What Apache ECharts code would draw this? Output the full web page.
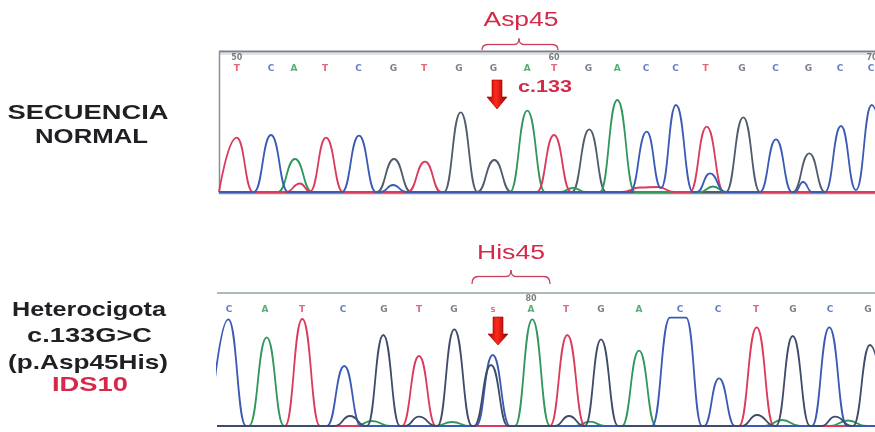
<!DOCTYPE html>
<html>
<head>
<meta charset="utf-8">
<script src="https://cdn.jsdelivr.net/npm/echarts@6/dist/echarts.min.js"></script>
<style>
html,body{margin:0;padding:0;background:#fff;}
#chart{width:875px;height:432px;}
</style>
</head>
<body>
<div id="chart"></div>
<script>
// ---------- DATA (scan position, signal intensity) ----------
// Normal sequence trace (top)
var topT = [[219,0],[236.7,543],[253,0],[286,0],[300,85],[310,5],[326,543],[343,0],[408,0],[425,303],[441,0],[537,0],[554,570],[571,0],[622,0],[640,45],[658,50],[674,0],[690,0],[706.7,653],[724,0],[875,0]];
var topC = [[219,0],[254,0],[271,570],[288,0],[342,0],[359,563],[376,0],[381,0],[393,70],[406,0],[630,0],[646.7,603],[661,40],[676,870],[693,0],[697,0],[710,187],[725,0],[760,0],[776,527],[792,0],[795,0],[803,100],[812,0],[825,0],[841,660],[856,20],[871.7,870],[889,0]];
var topA = [[219,0],[278,0],[295,330],[312,0],[510,0],[527.3,813],[545,0],[560,0],[573,40],[586,0],[600,0],[617.3,920],[635,0],[700,0],[713,55],[726,0],[875,0]];
var topG = [[219,0],[377,0],[394,330],[411,0],[444,0],[460.7,797],[477.5,0],[494.3,320],[511,0],[572,0],[589.3,627],[606,0],[726,0],[743.3,747],[760,0],[793,0],[809.3,387],[825,0],[875,0]];
var topCalls = ['T','C','A','T','C','G','T','G','G','A','T','G','A','C','C','T','G','C','G','C','C'];
var topCallPos = [236.7,271,294,325,358.5,393.5,424,459,493.5,527.3,554,588.5,617.3,646,675.5,705.5,742,775.5,808.5,840,871];
var topNums = ['50','60','70'];
var topNumPos = [236.7,554,872];

// Heterozygous trace (bottom)
var botC = [[210,0],[228.3,1067],[246,0],[327,0],[344.3,600],[361,0],[476,0],[492.7,710],[510,0],[652,0],[670,1083],[686,1083],[702,0],[704,0],[719,477],[735,0],[812,0],[829.3,987],[847,0],[875,0]];
var botA = [[217,0],[249,0],[266.7,887],[284,0],[355,0],[372,50],[390,0],[435,0],[452,40],[470,0],[515,0],[532.3,1067],[550,0],[575,0],[590,43],[605,0],[622,0],[639,753],[656,0],[765,0],[782,60],[800,0],[830,0],[848,55],[866,0],[875,0]];
var botT = [[217,0],[285,0],[302.3,1070],[320,0],[402,0],[419,700],[436,0],[550,0],[567.3,910],[585,0],[739,0],[756.7,987],[774,0],[875,0]];
var botG = [[217,0],[335,0],[350,100],[366,0],[367,0],[383.3,910],[400,0],[405,0],[419,93],[436,0],[437.5,0],[454.3,967],[472,0],[474,0],[491,610],[508,0],[555,0],[569,100],[584,0],[585,0],[601,867],[618,0],[742,0],[757,110],[775,0],[776,0],[792.7,900],[810,0],[822,0],[835,93],[852,0],[853,0],[870,810],[887,0]];
var botCalls = ['C','A','T','C','G','T','G','S','A','T','G','A','C','C','T','G','C','G'];
var botCallPos = [229,265,302,343,384,419,454,493,531,566,601,639,680,718,756,793,830,868];
var botNums = ['80'];
var botNumPos = [531];

// ---------- STYLE ----------
var traceColor = {A:'#31975c', C:'#3a5ab4', G:'#505c6c', T:'#dc3a5c'};
var callColor = {A:'#2f9a55', C:'#3b5cb8', G:'#55606e', T:'#d9405e', S:'#d9405e'};
var RED = '#d6294a';

var chart = echarts.init(document.getElementById('chart'), null, {renderer:'canvas'});

function traceSeries(data, color, gi) {
  return {
    type:'line', xAxisIndex:gi, yAxisIndex:gi, data:data,
    smooth:0.5, smoothMonotone:'x', showSymbol:false, symbol:'none',
    lineStyle:{color:color, width:1.8}, silent:true, clip:true, z:2
  };
}
function callSeries(calls, pos, yVal, gi) {
  return {
    type:'scatter', xAxisIndex:gi, yAxisIndex:gi, symbolSize:0, silent:true, z:3,
    data: calls.map(function(c,i){
      return {value:[pos[i], yVal], name:c,
        label:{color: callColor[c] || '#666', fontSize: c==='S'?7:9}};
    }),
    label:{show:true, position:'inside', formatter:function(p){return p.name;},
      fontFamily:'DejaVu Sans', fontWeight:'bold', fontSize:9}
  };
}
function numSeries(nums, pos, yVal, gi) {
  return {
    type:'scatter', xAxisIndex:gi, yAxisIndex:gi, symbolSize:0, silent:true, z:3,
    data: nums.map(function(n,i){ return {value:[pos[i], yVal], name:n}; }),
    label:{show:true, position:'inside', formatter:function(p){return p.name;},
      fontFamily:'DejaVu Sans', fontWeight:'bold', fontSize:8, color:'#5a6068'}
  };
}

// text width fitting (reference text is horizontally stretched)
var mctx = document.createElement('canvas').getContext('2d');
function txt(text, cx, cy, size, weight, color, targetW) {
  var font = weight + ' ' + size + 'px "Liberation Sans", Arial, sans-serif';
  mctx.font = font;
  var w = mctx.measureText(text).width;
  return {
    type:'text', x:cx, y:cy, scaleX: targetW / w, scaleY:1, z:10,
    style:{text:text, font:font, fill:color, align:'center', verticalAlign:'middle'}
  };
}
function arrow(cx, top, shaftBottom, tip) {
  return {
    type:'polygon', z:10,
    shape:{points:[[cx-5,top],[cx+5,top],[cx+5,shaftBottom],[cx+10,shaftBottom],[cx,tip],[cx-10,shaftBottom],[cx-5,shaftBottom]]},
    style:{fill:new echarts.graphic.LinearGradient(0,0,1,0,[
      {offset:0,color:'#b00000'},{offset:0.45,color:'#ff2a1a'},{offset:1,color:'#8c0000'}]),
      stroke:'#9a0000', lineWidth:0.6}
  };
}
function bz(x1,y1,cx,cy,x2,y2){ return {type:'bezierCurve', z:10, shape:{x1:x1,y1:y1,cpx1:cx,cpy1:cy,x2:x2,y2:y2}, style:{stroke:'#c8405e', lineWidth:1.3, fill:null}}; }
function hline(x0,x1,y,color,w){ return {type:'line', z:1, shape:{x1:x0,y1:y,x2:x1,y2:y}, style:{stroke:color,lineWidth:w}}; }
function vline(x,y0,y1,color,w){ return {type:'line', z:1, shape:{x1:x,y1:y0,x2:x,y2:y1}, style:{stroke:color,lineWidth:w}}; }
function brace(x0, x1, xm, yEnd, yMid, yTip) {
  var c = '#c8405e';
  return {type:'group', children:[
    bz(x0,yEnd, x0,yMid, x0+6,yMid),
    hline(x0+6, xm-5, yMid, c, 1.3),
    bz(xm-5,yMid, xm,yMid, xm,yTip),
    bz(xm,yTip, xm,yMid, xm+5,yMid),
    hline(xm+5, x1-6, yMid, c, 1.3),
    bz(x1-6,yMid, x1,yMid, x1,yEnd)
  ]};
}

var option = {
  animation:false,
  backgroundColor:'#ffffff',
  grid:[
    {left:219, top:52, width:656, height:141, show:false},
    {left:217, top:293, width:658, height:134, show:false}
  ],
  xAxis:[
    {type:'value', gridIndex:0, min:219, max:875, show:false},
    {type:'value', gridIndex:1, min:217, max:875, show:false}
  ],
  yAxis:[
    {type:'value', gridIndex:0, min:-10, max:1400, show:false},
    {type:'value', gridIndex:1, min:-10, max:1330, show:false}
  ],
  series:[
    traceSeries(topG, traceColor.G, 0),
    traceSeries(topA, traceColor.A, 0),
    traceSeries(topT, traceColor.T, 0),
    traceSeries(topC, traceColor.C, 0),
    callSeries(topCalls, topCallPos, 1230, 0),
    numSeries(topNums, topNumPos, 1340, 0),
    traceSeries(botA, traceColor.A, 1),
    traceSeries(botT, traceColor.T, 1),
    traceSeries(botC, traceColor.C, 1),
    traceSeries(botG, '#3f4b6a', 1),
    callSeries(botCalls, botCallPos, 1160, 1),
    numSeries(botNums, botNumPos, 1270, 1)
  ],
  graphic:[
    hline(219,875,51.5,'#7d818c',2),
    hline(219,875,54,'#c3c6cc',1),
    vline(219.5,51,194,'#8a8e98',1.5),
    hline(219,875,193.5,'#8a8e98',1.5),
    hline(217,875,293,'#90a697',1.5),
    txt('SECUENCIA', 88, 113.5, 21, 'bold', '#1e2024', 161),
    txt('NORMAL', 91.5, 137.5, 21, 'bold', '#1e2024', 113),
    txt('Heterocigota', 89, 310.5, 21, 'bold', '#1e2024', 154),
    txt('c.133G>C', 89.5, 336.5, 21, 'bold', '#1e2024', 125),
    txt('(p.Asp45His)', 88, 363.5, 21, 'bold', '#1e2024', 160),
    txt('IDS10', 90, 385.5, 21, 'bold', RED, 76),
    txt('Asp45', 521, 20, 20, 'normal', RED, 75),
    brace(482, 558, 519, 50, 44.5, 38.5),
    txt('His45', 511, 253, 20, 'normal', RED, 68),
    brace(472, 550, 511, 284, 276.5, 270),
    txt('c.133', 545, 87, 17, 'bold', RED, 54),
    arrow(497, 80, 97, 109),
    arrow(498, 317, 334, 345)
  ]
};
chart.setOption(option);
</script>
</body>
</html>
